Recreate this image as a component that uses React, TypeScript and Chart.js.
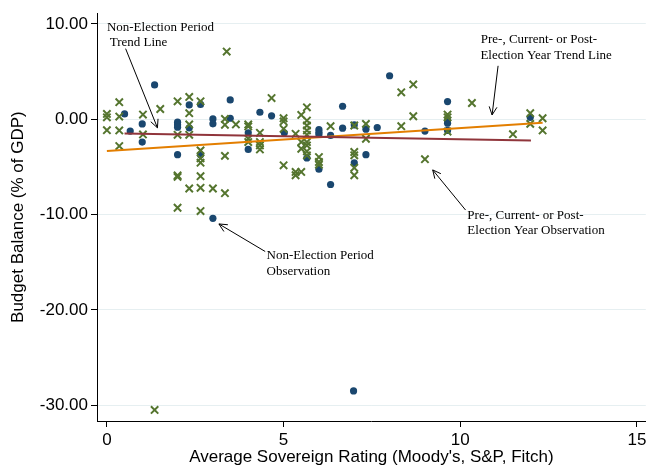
import React, { useEffect, useRef } from "react";
import { Chart, registerables } from "chart.js";

Chart.register(...registerables);

// Non-election period observations [rating, budget balance]
const nonElectionPoints: [number, number][] = [
  [1.35, 3.6], [0.5, 0.55], [0.66, -1.25], [1.0, -0.5], [1.0, -2.4],
  [2.0, -0.31], [2.0, -0.59], [2.0, -0.84], [2.0, -3.72],
  [2.33, 1.5], [2.33, -0.9], [2.65, 1.55], [2.65, -3.72],
  [3.0, 0.03], [3.0, -0.49], [3.0, -10.4], [3.49, 2.02], [3.49, 0.1],
  [4.0, -1.43], [4.0, -3.17], [4.33, 0.73], [4.66, 0.35], [5.02, -1.43],
  [5.66, -4.07], [6.0, -1.08], [6.0, -1.36], [6.0, -1.6], [6.0, -5.25],
  [6.33, -1.7], [6.33, -6.85], [6.67, 1.36], [6.67, -0.94],
  [7.0, -0.6], [7.0, -4.59], [7.33, -1.05], [7.33, -3.72], [7.65, -0.87],
  [8.0, 4.56], [9.0, -1.25], [9.64, 1.85], [9.64, -0.14], [9.64, -0.42],
  [9.64, -1.18], [11.98, 0.2], [6.98, -28.5],
];

// Pre-, current- or post-election year observations
const electionPoints: [number, number][] = [
  [0, 0.55], [0, 0.2], [0, -1.15],
  [0.35, 1.78], [0.35, 0.28], [0.35, -1.18], [0.35, -2.82],
  [1.02, 0.49], [1.02, -1.6], [1.51, 1.07], [1.35, -30.5],
  [2.0, 1.88], [2.0, -1.64], [2.0, -5.9], [2.0, -6.05], [2.0, -9.29],
  [2.33, 2.33], [2.33, 0.63], [2.33, -0.55], [2.33, -1.64], [2.33, -7.27],
  [2.65, 1.88], [2.65, -3.27], [2.65, -4.1], [2.65, -4.56], [2.65, -5.98], [2.65, -7.2], [2.65, -9.64],
  [3.0, -7.27],
  [3.39, 7.1], [3.34, 0.03], [3.34, -0.59], [3.34, -3.85], [3.34, -7.76],
  [3.65, -0.55],
  [4.0, -0.55], [4.0, -0.76], [4.0, -2.05], [4.0, -2.4],
  [4.33, -1.43], [4.33, -2.4], [4.33, -2.75], [4.33, -3.17],
  [4.66, 2.22],
  [5.0, 0.1], [5.0, -0.24], [5.0, -1.01], [5.0, -4.84],
  [5.34, -1.53], [5.34, -5.53], [5.34, -5.88],
  [5.5, 0.45], [5.5, -2.4], [5.5, -3.1], [5.5, -5.53],
  [5.66, 1.25], [5.66, -0.14], [5.66, -0.66], [5.66, -1.18], [5.66, -1.64],
  [5.66, -2.4], [5.66, -2.75], [5.66, -3.37], [5.66, -3.79],
  [6.0, -3.97], [6.0, -4.49], [6.0, -4.77],
  [6.33, -0.73],
  [7.0, -0.66], [7.0, -3.44], [7.0, -3.79], [7.0, -5.1], [7.0, -5.88],
  [7.33, -0.49], [7.33, -2.05],
  [8.33, 2.82], [8.33, -0.73], [8.67, 3.65], [8.67, 0.31],
  [9.0, -4.2],
  [9.64, 0.49], [9.64, 0.2], [9.64, -1.3],
  [10.33, 1.7], [11.49, -1.57],
  [11.98, 0.63], [11.98, -0.49],
  [12.33, 0.1], [12.33, -1.18],
];

const nonElectionTrend: [number, number][] = [[0.5, -1.5], [12.0, -2.23]];
const electionTrend: [number, number][] = [[0, -3.34], [12.33, -0.38]];

const yTickValues = [-30, -20, -10, 0, 10];
const xTickValues = [0, 5, 10, 15];

const xTitle = "Average Sovereign Rating (Moody's, S&P, Fitch)";
const yTitle = "Budget Balance (% of GDP)";

// annotation labels: text with anchor in data units (left, middle)
const noteLabels: { text: string; x: number; y: number }[] = [
  { text: "Non-Election Period", x: 0.0, y: 9.6 },
  { text: "Trend Line", x: 0.08, y: 8.04 },
  { text: "Pre-, Current- or Post-", x: 10.58, y: 8.32 },
  { text: "Election Year Trend Line", x: 10.57, y: 6.68 },
  { text: "Pre-, Current- or Post-", x: 10.2, y: -10.13 },
  { text: "Election Year Observation", x: 10.2, y: -11.69 },
  { text: "Non-Election Period", x: 4.52, y: -14.3 },
  { text: "Observation", x: 4.52, y: -15.94 },
];

// arrows: tail -> head in data units
const noteArrows: { from: [number, number]; to: [number, number] }[] = [
  { from: [0.53, 7.4], to: [1.43, -0.9] },
  { from: [11.07, 5.6], to: [10.9, 0.45] },
  { from: [10.15, -9.53], to: [9.22, -5.32] },
  { from: [4.48, -13.88], to: [3.17, -10.99] },
];

const NAVY = "#1a476f";
const GREEN = "#55752f";
const MAROON = "#90353b";
const ORANGE = "#e37e00";
const SANS = "'Liberation Sans', Arial, Helvetica, sans-serif";
const SERIF = "'Liberation Serif', 'Times New Roman', serif";

const annotationPlugin = {
  id: "notes",
  afterDatasetsDraw(chart: any) {
    const { ctx, scales } = chart;
    const xs = scales.x;
    const ys = scales.y;
    ctx.save();
    ctx.fillStyle = "#000";
    ctx.font = `13px ${SERIF}`;
    ctx.textAlign = "left";
    ctx.textBaseline = "middle";
    for (const l of noteLabels) {
      ctx.fillText(l.text, xs.getPixelForValue(l.x), ys.getPixelForValue(l.y));
    }
    ctx.strokeStyle = "#000";
    ctx.lineWidth = 1;
    for (const a of noteArrows) {
      const x1 = xs.getPixelForValue(a.from[0]);
      const y1 = ys.getPixelForValue(a.from[1]);
      const x2 = xs.getPixelForValue(a.to[0]);
      const y2 = ys.getPixelForValue(a.to[1]);
      const ang = Math.atan2(y2 - y1, x2 - x1);
      const hl = 9;
      const spread = 0.45;
      ctx.beginPath();
      ctx.moveTo(x1, y1);
      ctx.lineTo(x2, y2);
      ctx.moveTo(x2 - hl * Math.cos(ang - spread), y2 - hl * Math.sin(ang - spread));
      ctx.lineTo(x2, y2);
      ctx.lineTo(x2 - hl * Math.cos(ang + spread), y2 - hl * Math.sin(ang + spread));
      ctx.stroke();
    }
    ctx.restore();
  },
};

export default function App() {
  const ref = useRef<HTMLCanvasElement | null>(null);

  useEffect(() => {
    document.body.style.margin = "0";
    const canvas = ref.current;
    if (!canvas) return;
    const toXY = (arr: [number, number][]) => arr.map(([x, y]) => ({ x, y }));
    const chart = new Chart(canvas, {
      type: "scatter",
      data: {
        datasets: [
          {
            label: "Non-Election Period Trend Line",
            data: toXY(nonElectionTrend),
            showLine: true,
            borderColor: MAROON,
            borderWidth: 2,
            pointRadius: 0,
            order: 0,
          },
          {
            label: "Election Year Trend Line",
            data: toXY(electionTrend),
            showLine: true,
            borderColor: ORANGE,
            borderWidth: 2,
            pointRadius: 0,
            order: 0,
          },
          {
            label: "Non-Election Period Observation",
            data: toXY(nonElectionPoints),
            backgroundColor: NAVY,
            borderColor: NAVY,
            borderWidth: 0,
            pointRadius: 3.6,
            pointStyle: "circle",
            order: 2,
          },
          {
            label: "Election Year Observation",
            data: toXY(electionPoints),
            backgroundColor: GREEN,
            borderColor: GREEN,
            borderWidth: 2,
            pointRadius: 5.2,
            pointStyle: "crossRot",
            order: 1,
          },
        ],
      },
      options: {
        animation: false,
        responsive: false,
        maintainAspectRatio: false,
        devicePixelRatio: 1,
        layout: { padding: { top: 11, right: 2, left: 0, bottom: 0 } },
        plugins: {
          legend: { display: false },
          tooltip: { enabled: false },
        },
        scales: {
          x: {
            type: "linear",
            min: -0.28,
            max: 15.25,
            afterBuildTicks: (s: any) => {
              s.ticks = xTickValues.map((v) => ({ value: v }));
            },
            afterFit: (s: any) => {
              s.height = 44;
            },
            ticks: {
              autoSkip: false,
              maxRotation: 0,
              padding: 3,
              color: "#000",
              font: { family: SANS, size: 17 },
              callback: (v: any) => String(v),
            },
            grid: {
              drawOnChartArea: false,
              tickLength: 6,
              tickColor: "#000",
              color: "#000",
            },
            border: { color: "#000", width: 1 },
            title: {
              display: true,
              text: xTitle,
              color: "#000",
              font: { family: SANS, size: 17, lineHeight: 1 },
              padding: { top: 0, bottom: -1 },
            },
          },
          y: {
            type: "linear",
            min: -31.66,
            max: 11.12,
            afterBuildTicks: (s: any) => {
              s.ticks = yTickValues.map((v) => ({ value: v }));
            },
            afterFit: (s: any) => {
              s.width = 97;
            },
            ticks: {
              autoSkip: false,
              padding: 3,
              color: "#000",
              font: { family: SANS, size: 17 },
              callback: (v: any) => Number(v).toFixed(2),
            },
            grid: {
              drawOnChartArea: true,
              color: "#e6eff1",
              lineWidth: 1,
              tickLength: 6,
              tickColor: "#000",
            },
            border: { color: "#000", width: 1 },
            title: {
              display: true,
              text: yTitle,
              color: "#000",
              font: { family: SANS, size: 17, lineHeight: 1 },
              padding: { top: 9.5, bottom: 0 },
            },
          },
        },
      },
      plugins: [annotationPlugin],
    } as any);
    return () => chart.destroy();
  }, []);

  return (
    <div style={{ position: "absolute", left: 0, top: 0, width: 653, height: 465, background: "#fff" }}>
      <canvas ref={ref} width={653} height={465} style={{ width: 653, height: 465, display: "block" }} />
    </div>
  );
}
